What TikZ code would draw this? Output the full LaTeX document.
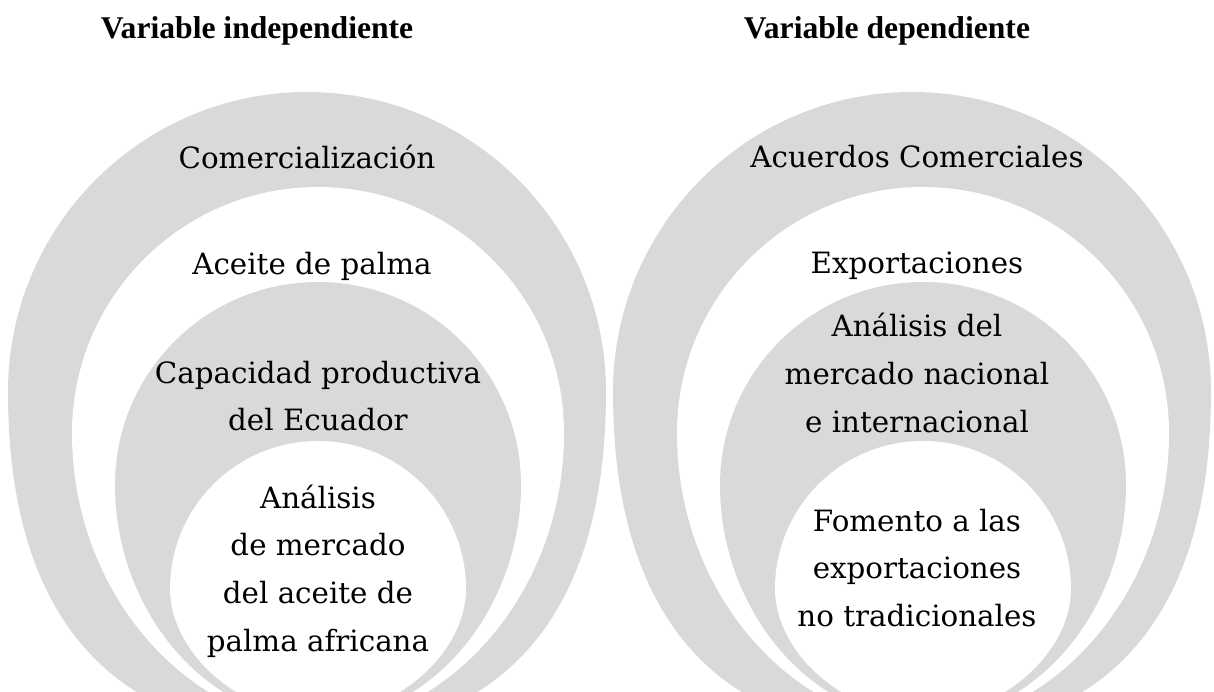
\documentclass[tikz,border=0pt]{standalone}
\usepackage{fontspec}
\setmainfont{DejaVu Serif}
\newfontfamily\titlefont{Liberation Serif}
\definecolor{ringgrey}{HTML}{D9D9D9}
\begin{document}
\begin{tikzpicture}[x=0.02cm,y=-0.02cm,
  ringg/.style={fill=ringgrey,draw=none},
  ringw/.style={fill=white,draw=none},
  lbl/.style={font=\fontsize{16.7}{27.2}\selectfont,align=center,inner sep=0pt,text=black},
  ttl/.style={font=\titlefont\bfseries\fontsize{18}{22}\selectfont,inner sep=0pt,text=black}]
\useasboundingbox (0,0) rectangle (1214,691);
\begin{scope}
\clip (0,0) rectangle (1214,691);
\foreach \dx in {0,605}{
\begin{scope}[shift={(\dx,0)}]
% outer grey
\fill[ringg] (8,392) arc[start angle=180,end angle=360,x radius=299,y radius=300]
  .. controls (606,640) and (480,735) .. (307,735)
  .. controls (134,735) and (8,640) .. (8,392) -- cycle;
% white ring
\fill[ringw] (72,433) arc[start angle=180,end angle=360,x radius=246,y radius=246]
  .. controls (564,600) and (440,725) .. (318,725)
  .. controls (196,725) and (72,600) .. (72,433) -- cycle;
% grey
\fill[ringg] (115,485) arc[start angle=180,end angle=360,x radius=203,y radius=203]
  .. controls (521,610) and (430,720) .. (318,720)
  .. controls (206,720) and (115,610) .. (115,485) -- cycle;
% inner white
\fill[ringw] (170,589) arc[start angle=180,end angle=360,x radius=148,y radius=148]
  .. controls (466,650) and (400,715) .. (318,715)
  .. controls (236,715) and (170,650) .. (170,589) -- cycle;
\end{scope}
}
\end{scope}
\node[ttl] (t1) at (257,31) {Variable independiente};
\node[ttl] (t2) at (887,31) {Variable dependiente};
\node[lbl] (l1) at (307,157) {Comercialización};
\node[lbl] (l2) at (312,266) {Aceite de palma};
\node[lbl] (l3) at (318,396) {Capacidad productiva\\del Ecuador};
\node[lbl] (l4) at (318,571) {Análisis\\de mercado\\del aceite de\\palma africana};
\node[lbl] (r1) at (917,157) {Acuerdos Comerciales};
\node[lbl] (r2) at (917,266) {Exportaciones};
\node[lbl] (r3) at (917,373) {Análisis del\\mercado nacional\\e internacional};
\node[lbl] (r4) at (917,568) {Fomento a las\\exportaciones\\no tradicionales};
\end{tikzpicture}
\end{document}
